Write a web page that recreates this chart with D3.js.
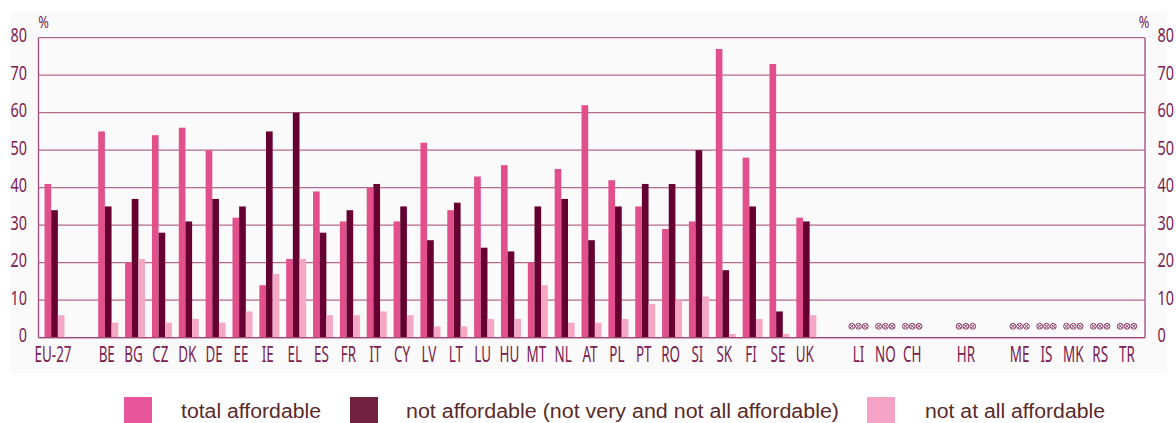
<!DOCTYPE html>
<html><head><meta charset="utf-8">
<script src="https://cdn.jsdelivr.net/npm/d3@7"></script>
<style>
html,body{margin:0;padding:0;background:#fff;}
svg{display:block;}
</style></head>
<body>
<svg id="chart" width="1176" height="423"></svg>
<script>
// Categories in display order ("_g" = empty slot)
const slots = ["EU-27","_g1","BE","BG","CZ","DK","DE","EE","IE","EL","ES","FR","IT","CY","LV","LT","LU","HU","MT","NL","AT","PL","PT","RO","SI","SK","FI","SE","UK","_g2","LI","NO","CH","_g3","HR","_g4","ME","IS","MK","RS","TR"];
const countries = ["EU-27","BE","BG","CZ","DK","DE","EE","IE","EL","ES","FR","IT","CY","LV","LT","LU","HU","MT","NL","AT","PL","PT","RO","SI","SK","FI","SE","UK"];
const totalAffordable = [41,55,20,54,56,50,32,14,21,39,31,40,31,52,34,43,46,20,45,62,42,35,29,31,77,48,73,32];
const notAffordable   = [34,35,37,28,31,37,35,55,60,28,34,41,35,26,36,24,23,35,37,26,35,41,41,50,18,35,7,31];
const notAtAll        = [6,4,21,4,5,4,7,17,21,6,6,7,6,3,3,5,5,14,4,4,5,9,10,11,1,5,1,6];
const noDataCountries = ["LI","NO","CH","HR","ME","IS","MK","RS","TR"];
const yTicks = [0,10,20,30,40,50,60,70,80];
const seriesNames = ["total affordable","not affordable (not very and not all affordable)","not at all affordable"];
const seriesColors = ["#e2508c","#650030","#f5a8c4"];
const legendColors = ["#e8559a","#722040","#f5a3c4"];

const svg = d3.select("#chart");
const pLeft = 38.5, pRight = 1145, pTop = 37.7, pBottom = 337.7;
const font = "'Noto Sans','Open Sans',sans-serif";
const txt = "#7a2050";
const grid = "#b5698c";

svg.append("rect").attr("x",10).attr("y",12).attr("width",1157).attr("height",361).attr("fill","#fafafa");

const x = d3.scaleBand().domain(slots).range([39.6, 39.6 + 41*26.85]).paddingInner(0).paddingOuter(0);
const y = d3.scaleLinear().domain([0,80]).range([pBottom, pTop]);
const sub = d3.scaleBand().domain([0,1,2]).range([0, 20]);

// gridlines
svg.append("g").selectAll("line").data(yTicks).join("line")
  .attr("x1",pLeft).attr("x2",pRight).attr("y1",d=>y(d)).attr("y2",d=>y(d))
  .attr("stroke",grid).attr("stroke-width",1.2);

// bars
const data = countries.map((c,i)=>({c, v:[totalAffordable[i], notAffordable[i], notAtAll[i]]}));
const gG = svg.append("g").selectAll("g").data(data).join("g")
  .attr("transform",d=>`translate(${x(d.c)+x.bandwidth()/2-10+1.5},0)`);
gG.selectAll("rect").data(d=>d.v.map((v,k)=>({v,k}))).join("rect")
  .attr("x",d=>sub(d.k)).attr("width",sub.bandwidth())
  .attr("y",d=>y(d.v)).attr("height",d=>y(0)-y(d.v))
  .attr("fill",d=>seriesColors[d.k]);

// no-data markers (three crossed circles per country)
const nd = svg.append("g").selectAll("g").data(noDataCountries).join("g")
  .attr("transform",d=>`translate(${x(d)+x.bandwidth()/2},${y(0)-11.4})`);
[-6.8,0,6.8].forEach(dx=>{
  const c = nd.append("g").attr("transform",`translate(${dx},0)`)
    .attr("stroke","#8a3564").attr("stroke-width",1).attr("fill","none");
  c.append("circle").attr("r",2.9);
  c.append("path").attr("d","M-1.9,-1.9L1.9,1.9M-1.9,1.9L1.9,-1.9");
});

// axes frame
const frame = svg.append("g").attr("stroke","#a0487a").attr("stroke-width",1.3).attr("fill","none");
frame.append("line").attr("x1",pLeft).attr("x2",pLeft).attr("y1",pTop).attr("y2",pBottom);
frame.append("line").attr("x1",pRight).attr("x2",pRight).attr("y1",pTop).attr("y2",pBottom);
frame.append("line").attr("x1",pLeft).attr("x2",pRight).attr("y1",pBottom).attr("y2",pBottom);

// y axes (left and right)
const sy = 0.72;
const yl = svg.append("g").attr("transform",`translate(${pLeft},0)`)
  .call(d3.axisLeft(y).tickValues(yTicks).tickSize(0));
yl.select(".domain").remove();
yl.selectAll("text").attr("font-family",font).attr("font-size",20).attr("fill",txt)
  .attr("x",-11.5/sy).attr("dy",4).attr("transform",`scale(${sy},1)`);
const yr = svg.append("g").attr("transform",`translate(${pRight},0)`)
  .call(d3.axisRight(y).tickValues(yTicks).tickSize(0));
yr.select(".domain").remove();
yr.selectAll("text").attr("font-family",font).attr("font-size",20).attr("fill",txt)
  .attr("x",12.5/sy).attr("dy",4).attr("transform",`scale(${sy},1)`);

// x axis labels
const sx = 0.64;
const xa = svg.append("g").attr("transform",`translate(0,${pBottom})`)
  .call(d3.axisBottom(x).tickValues(slots.filter(s=>!s.startsWith("_"))).tickSize(0));
xa.select(".domain").remove();
xa.selectAll("text").attr("font-family",font).attr("font-size",21).attr("fill",txt)
  .attr("y",24).attr("dy",0).attr("transform",`scale(${sx},1)`);

// % labels
const pct = [[43.5,28],[1144,28]];
svg.append("g").selectAll("text").data(pct).join("text")
  .attr("transform",d=>`translate(${d[0]},${d[1]}) scale(0.8,1)`)
  .attr("text-anchor","middle").attr("font-family",font).attr("font-size",16).attr("fill",txt).text("%");

// legend
const legX = [124,350,867];
const legTextX = [181,406,925];
const legTextW = [140,433,180];
const lg = svg.append("g").selectAll("g").data(seriesNames).join("g");
lg.append("rect").attr("x",(d,i)=>legX[i]).attr("y",397).attr("width",28).attr("height",30).attr("fill",(d,i)=>legendColors[i]);
lg.append("text").attr("x",(d,i)=>legTextX[i]).attr("y",418).attr("font-family","'Liberation Sans',Arial,sans-serif")
  .attr("font-size",20).attr("fill","#5a2a2a")
  .attr("textLength",(d,i)=>legTextW[i]).attr("lengthAdjust","spacingAndGlyphs").text(d=>d);
</script>
</body></html>
